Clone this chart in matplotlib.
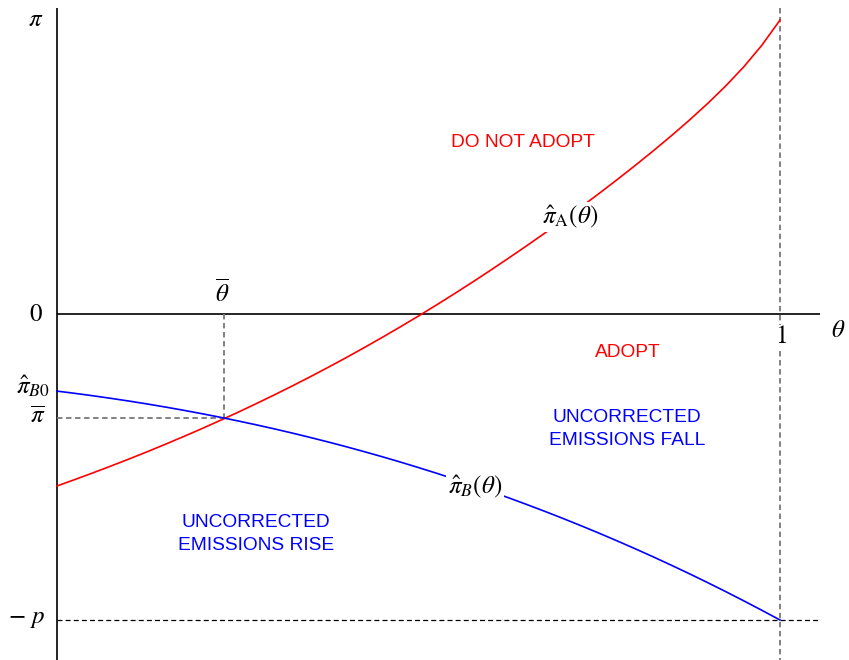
import matplotlib
matplotlib.use("Agg")
import matplotlib.pyplot as plt

plt.rcParams['mathtext.fontset'] = 'stix'
plt.rcParams['font.family'] = ['Liberation Serif', 'DejaVu Serif']

# ---- data ----
theta = [0.000, 0.025, 0.050, 0.075, 0.100, 0.125, 0.150, 0.175, 0.200, 0.225,
         0.250, 0.275, 0.300, 0.325, 0.350, 0.375, 0.400, 0.425, 0.450, 0.475,
         0.500, 0.525, 0.550, 0.575, 0.600, 0.625, 0.650, 0.675, 0.700, 0.725,
         0.750, 0.775, 0.800, 0.825, 0.850, 0.875, 0.900, 0.925, 0.950, 0.975,
         1.000]
pi_A = [-0.5620, -0.5407, -0.5189, -0.4965, -0.4735, -0.4499, -0.4256, -0.4006,
        -0.3750, -0.3486, -0.3215, -0.2936, -0.2650, -0.2356, -0.2054, -0.1743,
        -0.1425, -0.1098, -0.0762, -0.0418, -0.0065, 0.0297, 0.0668, 0.1047,
        0.1435, 0.1832, 0.2236, 0.2649, 0.3070, 0.3501, 0.3943, 0.4396, 0.4860,
        0.5338, 0.5830, 0.6343, 0.6880, 0.7455, 0.8080, 0.8786, 0.9605]
pi_B = [-0.2520, -0.2594, -0.2673, -0.2758, -0.2847, -0.2941, -0.3041, -0.3146,
        -0.3256, -0.3371, -0.3493, -0.3619, -0.3751, -0.3889, -0.4033, -0.4182,
        -0.4337, -0.4499, -0.4666, -0.4839, -0.5019, -0.5204, -0.5396, -0.5594,
        -0.5799, -0.6010, -0.6228, -0.6452, -0.6683, -0.6921, -0.7165, -0.7417,
        -0.7675, -0.7940, -0.8213, -0.8492, -0.8779, -0.9073, -0.9375, -0.9684,
        -1.0000]
theta_bar = 0.231
pi_bar = -0.341
neg_p = -1.0
pi_top = 1.0
theta_end = 1.055

fig = plt.figure(figsize=(8.49, 6.60), dpi=100)
ax = fig.add_axes([0, 0, 1, 1])
ax.set_xlim(-57 / 723, (849 - 57) / 723)
ax.set_ylim(-(660 - 314) / 306, 314 / 306)
ax.axis('off')

# axes
ax.plot([0, 0], [pi_top, -1.2], color='black', lw=1.2, solid_capstyle='butt')
ax.plot([0, theta_end], [0, 0], color='black', lw=1.2, solid_capstyle='butt')

# dashed guide lines
grey = '#777777'
ax.plot([theta_bar, theta_bar], [0, pi_bar], color=grey, lw=1.3, ls=(0, (3, 2)))
ax.plot([0, theta_bar], [pi_bar, pi_bar], color=grey, lw=1.3, ls=(0, (3, 2)))
ax.plot([1, 1], [pi_top, -1.2], color=grey, lw=1.3, ls=(0, (3, 2)))
ax.plot([0, theta_end], [neg_p, neg_p], color='black', lw=0.9, ls=(0, (4, 2.5)))

# curves
ax.plot(theta, pi_A, color='red', lw=1.2, zorder=3)
ax.plot(theta, pi_B, color='blue', lw=1.2, zorder=3)


def px(x, y):
    return (x - 57) / 723, (314 - y) / 306


bb = dict(facecolor='white', edgecolor='none', pad=1.5)
mfs = 18
ax.text(*px(570, 217), r'$\hat{\pi}_{\mathrm{A}}(\theta)$', fontsize=mfs,
        ha='center', va='center', bbox=bb, zorder=5)
ax.text(*px(475, 487), r'$\hat{\pi}_{B}(\theta)$', fontsize=mfs,
        ha='center', va='center', bbox=bb, zorder=5)

# axis labels
ax.text(*px(36, 20), r'$\pi$', fontsize=mfs, ha='center', va='center')
ax.text(*px(36, 315), r'$0$', fontsize=mfs, ha='center', va='center')
ax.text(*px(222, 293), r'$\overline{\theta}$', fontsize=mfs, ha='center', va='center')
ax.text(*px(33, 386), r'$\hat{\pi}_{B0}$', fontsize=mfs, ha='center', va='center')
ax.text(*px(38, 417), r'$\overline{\pi}$', fontsize=mfs, ha='center', va='center')
ax.text(*px(26, 619), r'$-\ p$', fontsize=mfs, ha='center', va='center')
ax.text(*px(781, 337), r'$1$', fontsize=mfs, ha='center', va='center',
        bbox=dict(facecolor='white', edgecolor='none', pad=0.5), zorder=5)
ax.text(*px(838, 331), r'$\theta$', fontsize=mfs, ha='center', va='center')

# region labels
sans = ['Liberation Sans', 'DejaVu Sans']
rfs = 13.8
ax.text(*px(523, 143), 'DO NOT ADOPT', color='red', fontsize=rfs,
        family=sans, ha='center', va='center')
ax.text(*px(628, 353), 'ADOPT', color='red', fontsize=rfs,
        family=sans, ha='center', va='center')
ax.text(*px(627, 429), 'UNCORRECTED\nEMISSIONS FALL', color='blue', fontsize=rfs,
        family=sans, ha='center', va='center', linespacing=1.4)
ax.text(*px(256, 534), 'UNCORRECTED\nEMISSIONS RISE', color='blue', fontsize=rfs,
        family=sans, ha='center', va='center', linespacing=1.4)

fig.savefig('out.png', dpi=100)
